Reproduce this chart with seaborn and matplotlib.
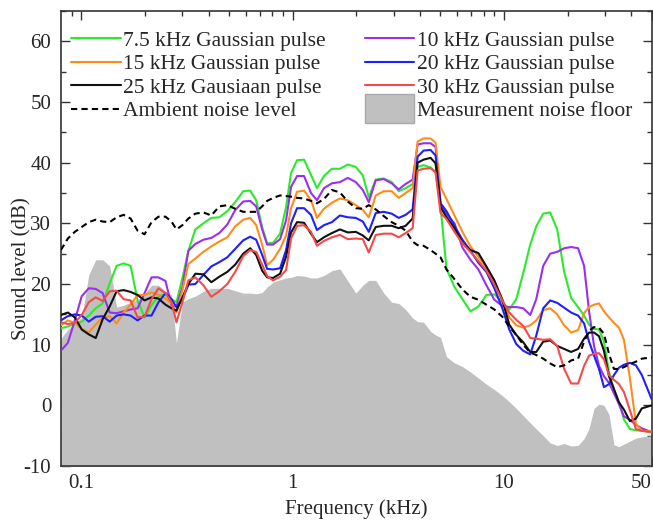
import matplotlib
matplotlib.use("Agg")
import matplotlib.pyplot as plt
import matplotlib.patches as mpatches
from matplotlib.legend_handler import HandlerPatch
from matplotlib.ticker import FixedLocator, NullFormatter, MultipleLocator
import seaborn as sns

# Frequency grid (kHz) and sound levels (dB)
freq_khz = [0.0799, 0.0862, 0.0930, 0.1003, 0.1083, 0.1168, 0.1260, 0.1360, 0.1467, 0.1583,
            0.1708, 0.1843, 0.1989, 0.2146, 0.2315, 0.2498, 0.2667, 0.2816, 0.3005, 0.3207,
            0.3460, 0.3775, 0.4118, 0.4491, 0.4899, 0.5343, 0.5828, 0.6289, 0.6713, 0.7164,
            0.7564, 0.8074, 0.8712, 0.9299, 0.9817, 1.048, 1.131, 1.220, 1.302, 1.405,
            1.532, 1.672, 1.823, 1.989, 2.146, 2.290, 2.471, 2.696, 2.940, 3.173,
            3.423, 3.694, 3.900, 4.163, 4.491, 4.742, 5.007, 5.344, 5.828, 6.356,
            6.934, 7.564, 8.252, 9.001, 9.817, 10.59, 11.43, 12.33, 13.31, 14.21,
            15.33, 16.54, 17.85, 19.26, 20.78, 22.42, 23.93, 25.27, 26.67, 28.16,
            29.72, 31.39, 33.14, 34.99, 36.94, 39.43, 42.09, 44.91, 50.0]

pulse_7k5 = [12.7, 13.0, 13.4, 13.8, 14.8, 16.0, 16.8, 20.1, 23.0, 23.4,
             23.0, 17.3, 14.5, 16.5, 18.0, 18.3, 17.5, 17.0, 21.0, 25.5,
             29.0, 30.0, 30.9, 31.0, 32.0, 33.5, 35.3, 35.4, 33.8, 29.4,
             26.7, 26.8, 28.3, 32.7, 38.3, 40.4, 40.5, 38.0, 35.8, 37.8,
             39.0, 39.0, 39.7, 39.3, 37.9, 34.3, 37.2, 37.4, 36.8, 35.3,
             35.8, 36.5, 39.3, 39.6, 39.2, 38.5, 32.7, 22.5, 19.5, 17.5,
             15.5, 16.3, 18.2, 18.3, 17.0, 15.8, 17.5, 21.8, 26.5, 29.5,
             31.6, 31.8, 29.0, 22.0, 17.7, 16.2, 14.8, 13.3, 12.6, 12.5,
             10.5, 5.5, 2.5, 0.5, -2.3, -3.9, -4.1, -4.2, -4.4]

pulse_10k = [9.0, 10.3, 14.0, 18.0, 19.3, 19.2, 18.5, 15.3, 15.2, 15.5,
             15.8, 16.0, 18.5, 21.1, 21.1, 20.5, 16.5, 16.3, 19.5, 25.5,
             26.6, 27.3, 27.6, 28.4, 29.8, 32.2, 33.6, 33.7, 32.8, 29.0,
             26.5, 26.5, 27.4, 30.5, 36.0, 37.8, 37.8, 35.0, 33.8, 35.8,
             36.6, 36.8, 37.5, 36.8, 35.5, 33.5, 37.1, 37.3, 36.6, 35.6,
             36.5, 37.2, 43.0, 43.2, 43.2, 42.6, 33.3, 31.5, 30.0, 26.0,
             24.0, 22.4, 19.8, 17.4, 16.4, 16.2, 16.2, 16.0, 14.9, 17.5,
             23.0, 25.0, 25.3, 25.9, 26.1, 25.9, 23.0, 15.5, 9.8, 6.5,
             4.8, 3.7, 2.0, 0.2, -1.8, -2.4, -3.2, -3.8, -4.4]

pulse_15k = [13.2, 14.0, 13.6, 12.6, 12.0, 13.3, 14.5, 14.7, 13.5, 15.3,
             16.6, 18.2, 18.2, 18.6, 18.2, 17.6, 16.8, 15.3, 19.0, 23.3,
             24.2, 25.3, 26.2, 27.0, 27.7, 29.5, 30.6, 30.9, 29.7, 26.5,
             23.1, 24.0, 25.8, 28.0, 32.5, 35.2, 35.4, 33.8, 30.9, 32.4,
             33.4, 34.1, 33.8, 33.0, 32.2, 31.0, 34.6, 35.3, 35.3, 34.2,
             35.0, 35.8, 43.5, 44.0, 44.0, 43.3, 36.0, 34.0, 31.3, 28.6,
             26.2, 24.5, 22.7, 20.3, 17.5, 14.5, 13.2, 12.8, 13.2, 14.0,
             15.7, 16.0, 15.0, 13.2, 12.0, 12.4, 15.2, 16.2, 16.6, 16.8,
             15.5, 14.5, 13.6, 12.8, 10.8, 4.5, -3.0, -4.2, -4.3]

pulse_20k = [14.0, 14.7, 15.0, 14.8, 13.8, 14.6, 14.7, 13.8, 14.8, 15.0,
             14.8, 14.0, 14.8, 14.8, 17.0, 18.5, 17.5, 16.2, 17.5, 19.9,
             20.0, 21.5, 22.9, 23.6, 24.4, 25.8, 27.2, 27.8, 27.3, 24.8,
             22.5, 22.4, 22.6, 25.6, 30.0, 32.5, 32.5, 31.4, 28.9, 29.7,
             30.2, 31.3, 31.0, 30.9, 30.3, 28.6, 31.7, 31.9, 31.6, 30.9,
             31.4, 32.3, 41.0, 42.0, 42.1, 41.2, 33.3, 32.0, 29.6, 27.3,
             25.5, 23.5, 22.0, 19.3, 16.0, 12.5, 10.1, 9.0, 8.4, 11.5,
             16.0, 17.3, 16.9, 16.1, 15.3, 14.8, 13.5, 10.5, 8.2, 6.0,
             3.0, 3.5, 5.0, 6.2, 6.7, 7.0, 6.6, 5.0, 1.0]

pulse_25k = [14.9, 15.3, 14.5, 12.5, 11.7, 11.1, 14.2, 16.3, 18.8, 19.0,
             18.7, 18.2, 17.3, 17.8, 17.6, 16.6, 16.0, 15.6, 17.8, 20.0,
             21.7, 21.6, 20.3, 21.2, 22.0, 23.2, 25.0, 25.9, 24.8, 22.2,
             21.1, 21.0, 21.7, 24.5, 28.5, 30.2, 30.1, 28.3, 26.9, 27.7,
             28.4, 29.0, 28.5, 28.6, 28.0, 27.2, 29.4, 29.6, 29.6, 29.2,
             29.6, 30.8, 40.0, 40.5, 40.8, 39.9, 32.7, 31.0, 29.2, 26.8,
             25.6, 25.1, 22.9, 20.6, 17.4, 13.3, 11.6, 10.4, 8.8, 8.8,
             10.5, 10.7, 9.8, 9.3, 8.8, 9.3, 11.0, 12.0, 12.0, 11.4,
             9.0, 4.8, 2.7, 0.5, -0.7, -2.6, -2.2, -0.5, 0.0]

pulse_30k = [13.7, 13.4, 13.6, 14.9, 17.0, 17.8, 17.2, 18.8, 18.9, 17.5,
             17.3, 14.5, 14.6, 17.5, 19.3, 18.5, 17.0, 13.7, 17.0, 20.6,
             21.1, 19.8, 17.9, 18.8, 20.0, 22.0, 24.6, 25.6, 25.3, 23.2,
             21.3, 20.6, 21.2, 22.3, 27.5, 29.6, 29.7, 28.6, 26.3, 27.1,
             27.7, 28.1, 27.4, 27.5, 27.4, 25.2, 28.1, 28.3, 28.3, 27.7,
             28.4, 29.2, 38.7, 39.0, 39.1, 38.4, 31.7, 30.7, 28.6, 26.7,
             25.3, 23.8, 22.2, 19.9, 17.3, 15.3, 14.1, 13.1, 11.1, 11.0,
             10.8, 10.9, 9.8, 6.0, 3.6, 3.6, 6.5, 8.2, 8.5, 8.6,
             7.6, 5.0, 4.2, 3.5, 2.2, -0.8, -3.9, -4.2, -4.4]

ambient_noise = [25.6, 27.5, 28.6, 29.4, 30.2, 30.6, 30.3, 30.2, 31.0, 31.4,
                 30.8, 28.8, 28.2, 30.2, 31.1, 31.1, 30.3, 29.0, 29.7, 30.8,
                 31.6, 31.8, 31.3, 32.8, 33.0, 32.4, 31.9, 31.9, 31.9, 32.8,
                 33.7, 34.2, 34.6, 34.5, 34.4, 34.2, 34.1, 33.7, 33.3, 34.0,
                 35.5, 35.1, 33.6, 32.5, 32.4, 33.0, 32.3, 31.2, 30.2, 29.6,
                 28.8, 27.0, 26.4, 26.3, 25.6, 25.0, 24.4, 22.4, 20.8, 19.1,
                 17.9, 17.4, 16.6, 15.8, 14.6, 13.0, 11.6, 10.0, 8.7, 8.3,
                 7.7, 6.9, 6.3, 6.6, 7.4, 7.7, 10.5, 12.3, 12.9, 12.8,
                 11.8, 8.5, 6.0, 6.0, 6.3, 6.8, 7.2, 7.7, 7.9]

noise_floor = [11.0, 12.5, 13.5, 14.5, 21.5, 24.0, 24.0, 23.0, 16.2, 16.5,
               17.0, 17.4, 18.3, 19.8, 19.8, 18.8, 18.2, 10.3, 17.0, 17.6,
               18.0, 18.8, 19.3, 19.3, 19.3, 18.9, 18.5, 18.5, 18.4, 18.6,
               19.5, 20.3, 20.7, 21.0, 21.1, 21.4, 21.3, 21.0, 21.0, 21.4,
               22.2, 22.5, 20.5, 18.5, 19.8, 20.6, 20.6, 18.5, 17.0, 16.8,
               15.8, 14.4, 13.8, 13.7, 12.2, 11.6, 11.2, 8.0, 7.0, 6.4,
               5.5, 4.5, 3.5, 2.6, 1.6, 0.6, -0.5, -1.7, -2.9, -3.9,
               -5.0, -6.2, -6.6, -6.3, -6.7, -6.6, -5.5, -3.8, -0.5, 0.2,
               0.0, -1.5, -6.5, -6.8, -6.4, -5.9, -5.4, -5.2, -5.0]

pulse_labels = ["7.5 kHz Gaussian pulse", "10 kHz Gaussian pulse", "15 kHz Gaussian pulse",
                "20 kHz Gaussian pulse", "25 kHz Gausiaan pulse", "30 kHz Gaussian pulse"]
pulse_levels = [pulse_7k5, pulse_10k, pulse_15k, pulse_20k, pulse_25k, pulse_30k]
pulse_colors = ["#2bea2b", "#9a2ff0", "#ff8c1a", "#1f1fff", "#111111", "#f44a4a"]

sns.set_theme(style="ticks")
plt.rcParams["font.family"] = ["Liberation Serif", "DejaVu Serif"]
plt.rcParams["axes.unicode_minus"] = False

fig = plt.figure(figsize=(6.53, 5.2), dpi=100)
ax = fig.add_axes([0.0934, 0.1038, 0.9046, 0.875])

# measurement noise floor as a filled area
ax.fill_between(freq_khz, -20, noise_floor, color="#c0c0c0", linewidth=0, zorder=1)

lines = {}
for label, levels, color in zip(pulse_labels, pulse_levels, pulse_colors):
    sns.lineplot(x=freq_khz, y=levels, color=color, linewidth=1.5, ax=ax, zorder=3)
    lines[label] = ax.get_lines()[-1]

sns.lineplot(x=freq_khz, y=ambient_noise, color="black", linewidth=1.5,
             linestyle=(0, (3, 2)), ax=ax, zorder=4)
ambient_line = ax.get_lines()[-1]

ax.set_xscale("log")
ax.set_xlim(0.08, 50)
ax.set_ylim(-10, 65)

ax.xaxis.set_major_locator(FixedLocator([0.1, 1, 10, 50]))
minor = [0.09] + [i / 10 for i in range(2, 10)] + list(range(2, 10)) + [20, 30, 40]
ax.xaxis.set_minor_locator(FixedLocator(minor))
ax.xaxis.set_minor_formatter(NullFormatter())
ax.set_xticklabels(["0.1", "1", "10", "50"])
ax.get_xticklabels()[-1].set_horizontalalignment("right")

ax.yaxis.set_major_locator(FixedLocator(list(range(-10, 61, 10))))
ax.yaxis.set_minor_locator(MultipleLocator(5))

ax.tick_params(which="both", direction="in", top=True, right=True,
               width=1.0, color="#333333", labelsize=15)
ax.tick_params(which="major", length=6.5)
ax.tick_params(which="minor", length=3.5)
ax.tick_params(axis="y", pad=7)
ax.tick_params(axis="x", pad=6)
for spine in ax.spines.values():
    spine.set_linewidth(1.2)
    spine.set_color("#333333")

ax.set_xlabel("Frequency (kHz)", fontsize=15)
ax.set_ylabel("Sound level (dB)", fontsize=15)
ax.xaxis.set_label_coords(0.5, -0.072)
ax.yaxis.set_label_coords(-0.05, 0.433)

floor_patch = mpatches.Patch(facecolor="#c0c0c0", edgecolor="#a8a8a8", linewidth=1)


def tall_patch(legend, orig_handle, xdescent, ydescent, width, height, fontsize):
    return mpatches.Rectangle((-xdescent, -ydescent - 0.45 * height), width, 1.9 * height)


handles = [lines[pulse_labels[0]], lines[pulse_labels[2]], lines[pulse_labels[4]], ambient_line,
           lines[pulse_labels[1]], lines[pulse_labels[3]], lines[pulse_labels[5]], floor_patch]
labels = [pulse_labels[0], pulse_labels[2], pulse_labels[4], "Ambient noise level",
          pulse_labels[1], pulse_labels[3], pulse_labels[5], "Measurement noise floor"]
ax.legend(handles, labels, ncol=2, loc="upper left", bbox_to_anchor=(0.017, 0.957),
          frameon=False, borderpad=0, borderaxespad=0, handlelength=2.3,
          handletextpad=0.12, columnspacing=1.8, labelspacing=0.16, fontsize=15.5,
          handler_map={floor_patch: HandlerPatch(patch_func=tall_patch)})

fig.savefig("out.png", dpi=100)
